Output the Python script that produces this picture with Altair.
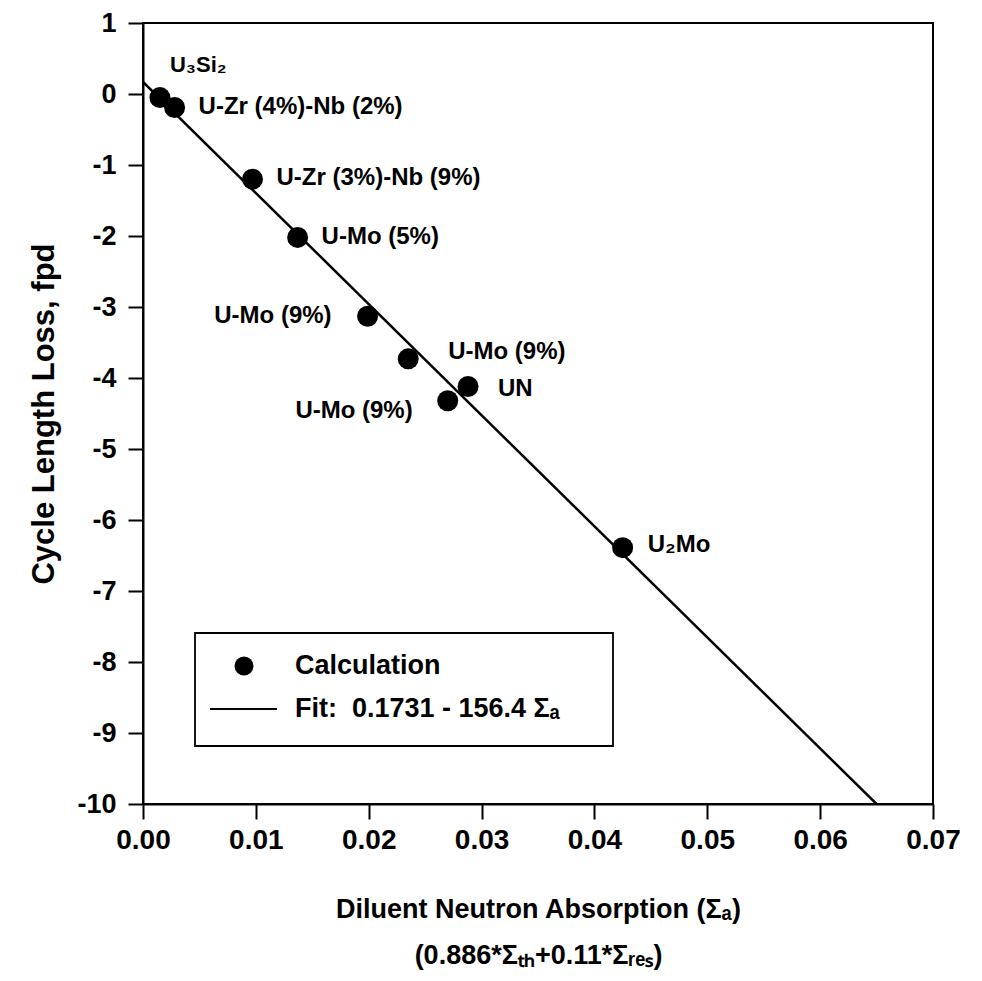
import altair as alt
import pandas as pd

# ---- data ----
labels = ["U₃Si₂", "U-Zr (4%)-Nb (2%)", "U-Zr (3%)-Nb (9%)", "U-Mo (5%)",
          "U-Mo (9%)", "U-Mo (9%)", "UN", "U-Mo (9%)", "U₂Mo"]
sigma_a = [0.0015, 0.0028, 0.0097, 0.0137, 0.0199, 0.0235, 0.0288, 0.0270, 0.0425]
cycle_loss = [-0.05, -0.19, -1.20, -2.02, -3.13, -3.73, -4.12, -4.32, -6.39]

fit_x = [0.0, 0.065]
fit_y = [0.17, -10.0]

x_ticks = [0.00, 0.01, 0.02, 0.03, 0.04, 0.05, 0.06, 0.07]
y_ticks = [1, 0, -1, -2, -3, -4, -5, -6, -7, -8, -9, -10]

# label placement styles (pixel offsets from each point, alignment)
label_dx = [10, 24, 24, 24, -36, 40, 30, -35, 25]
label_dy = [-33, 0, -1, 0, 0, -7, 2, 10, -3]
label_align = ["left", "left", "left", "left", "right", "left", "left", "right", "left"]

FONT = "Liberation Sans"
NBSP = "\u00a0"

pts = pd.DataFrame({"sigma": sigma_a, "loss": cycle_loss, "label": labels})
fit = pd.DataFrame({"sigma": fit_x, "loss": fit_y})
one = pd.DataFrame({"k": [0]})

xscale = alt.Scale(domain=[0, 0.07], nice=False, zero=False)
yscale = alt.Scale(domain=[-10, 1], nice=False, zero=False)

xaxis = alt.Axis(
    values=x_ticks, format=".2f", grid=False, labelFlush=False,
    labelFont=FONT, labelFontWeight="bold", labelFontSize=28, labelColor="black",
    labelPadding=7, tickSize=15, tickWidth=2, tickColor="black",
    domainColor="black", domainWidth=2,
    title=["Diluent Neutron Absorption (Σₐ)", "(0.886*Σₜₕ+0.11*Σᵣₑₛ)"],
    titleFont=FONT, titleFontWeight="bold", titleFontSize=27, titleColor="black",
    titleLineHeight=46, titlePadding=42,
)
yaxis = alt.Axis(
    values=y_ticks, labelExpr="'' + datum.value", grid=False, labelFlush=False,
    labelFont=FONT, labelFontWeight="bold", labelFontSize=27, labelColor="black",
    labelPadding=12, tickSize=15, tickWidth=2, tickColor="black",
    domainColor="black", domainWidth=2,
    title="Cycle Length Loss, fpd",
    titleFont=FONT, titleFontWeight="bold", titleFontSize=31, titleColor="black",
    titlePadding=16,
)

line = alt.Chart(fit).mark_line(color="black", strokeWidth=2.5, clip=True).encode(
    x=alt.X("sigma:Q", scale=xscale, axis=xaxis),
    y=alt.Y("loss:Q", scale=yscale, axis=yaxis),
)

points = alt.Chart(pts).mark_circle(color="black", opacity=1, size=440).encode(
    x=alt.X("sigma:Q", scale=xscale),
    y=alt.Y("loss:Q", scale=yscale),
)

label_layers = []
for i in range(len(labels)):
    label_layers.append(
        alt.Chart(pts.iloc[[i]]).mark_text(
            align=label_align[i], baseline="middle", dx=label_dx[i], dy=label_dy[i],
            font=FONT, fontWeight="bold", fontSize=24 if i != 0 else 22, color="black",
        ).encode(
            x=alt.X("sigma:Q", scale=xscale),
            y=alt.Y("loss:Q", scale=yscale),
            text="label:N",
        )
    )

# legend box (drawn manually)
leg_box = alt.Chart(one).mark_rect(fill="white", fillOpacity=0, stroke="black", strokeWidth=1.8).encode(
    x=alt.value(52), x2=alt.value(470), y=alt.value(610), y2=alt.value(723)
)
leg_dot = alt.Chart(one).mark_circle(color="black", opacity=1, size=360).encode(
    x=alt.value(101), y=alt.value(643)
)
leg_line = alt.Chart(one).mark_rule(color="black", strokeWidth=2).encode(
    x=alt.value(67), x2=alt.value(134), y=alt.value(686)
)
leg_t1 = alt.Chart(one).mark_text(
    align="left", baseline="middle", font=FONT, fontWeight="bold", fontSize=27, color="black"
).encode(x=alt.value(152), y=alt.value(643), text=alt.value("Calculation"))
leg_t2 = alt.Chart(one).mark_text(
    align="left", baseline="middle", font=FONT, fontWeight="bold", fontSize=27, color="black"
).encode(x=alt.value(152), y=alt.value(686),
         text=alt.value("Fit:" + NBSP + NBSP + "0.1731" + NBSP + "-" + NBSP + "156.4" + NBSP + "Σₐ"))

chart = alt.layer(line, points, *label_layers, leg_box, leg_dot, leg_line, leg_t1, leg_t2).properties(
    width=790, height=781,
    autosize=alt.AutoSizeParams(type="none"),
    padding={"left": 135, "top": 15, "right": 30, "bottom": 168},
    background="white",
).configure_view(stroke="black", strokeWidth=2)

chart.save("out.html", embed_options={"renderer": "svg", "actions": False})
